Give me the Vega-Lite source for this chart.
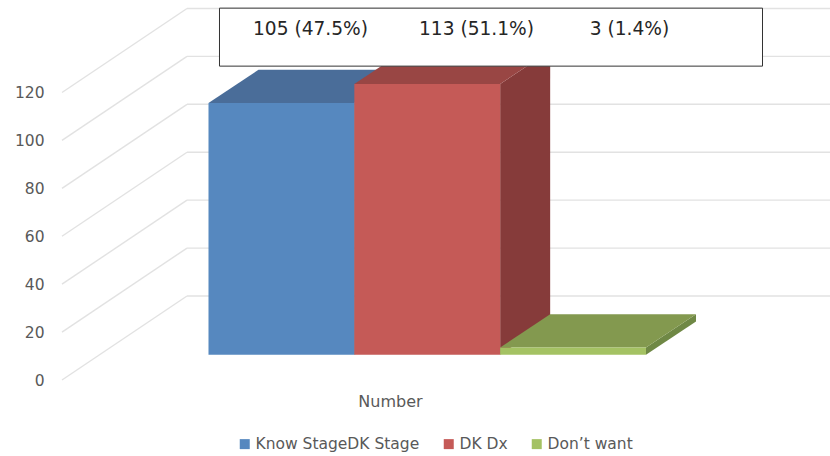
{
  "$schema": "https://vega.github.io/schema/vega-lite/v6.json",
  "width": 830,
  "height": 456,
  "padding": 0,
  "autosize": {"type": "none"},
  "background": "white",
  "config": {
    "view": {"stroke": null},
    "font": "DejaVu Sans"
  },
  "datasets": {
    "bars": [
      {"series": "Know StageDK Stage", "value": 105, "left": 0, "right": 1, "label": "105 (47.5%)", "depth": [0, 1]},
      {"series": "DK Dx", "value": 113, "left": 1, "right": 2, "label": "113 (51.1%)", "depth": [0, 1]},
      {"series": "Don’t want", "value": 3, "left": 2, "right": 3, "label": "3 (1.4%)", "depth": [0, 1]}
    ],
    "ticks": [
      {"tick": 0}, {"tick": 20}, {"tick": 40}, {"tick": 60}, {"tick": 80}, {"tick": 100}, {"tick": 120}
    ]
  },
  "resolve": {"scale": {"color": "independent"}},
  "layer": [
    {
      "description": "Sloped part of the wall gridlines, also carries the value axis",
      "data": {"name": "ticks"},
      "mark": {"type": "rule", "color": "#e2e2e2", "strokeWidth": 1.4, "y2Offset": -84},
      "encoding": {
        "x": {
          "datum": -1.0046,
          "type": "quantitative",
          "scale": {"domain": [-1.4297, 4.2618], "nice": false, "zero": false},
          "axis": {
            "orient": "bottom", "title": "Number", "labels": false, "ticks": false, "domain": false, "grid": false,
            "titleX": 390, "titleY": -55, "titleFontSize": 16, "titleFontWeight": "normal", "titleColor": "#595959", "titleFont": "DejaVu Sans", "titleBaseline": "middle"
          }
        },
        "x2": {"datum": -0.1474},
        "y": {
          "field": "tick",
          "type": "quantitative",
          "scale": {"domain": [-31.72, 158.6], "nice": false, "zero": false},
          "axis": {
            "orient": "left", "title": null, "values": [0, 20, 40, 60, 80, 100, 120], "domain": false, "ticks": false, "grid": false,
            "offset": -44, "labelPadding": 0, "labelFontSize": 15.5, "labelColor": "#595959", "labelFont": "DejaVu Sans"
          }
        },
        "y2": {"field": "tick"}
      }
    },
    {
      "description": "Horizontal part of the gridlines along the back wall",
      "data": {"name": "ticks"},
      "mark": {"type": "rule", "color": "#e2e2e2", "strokeWidth": 1.4, "yOffset": -84},
      "encoding": {
        "x": {"datum": -0.1474, "type": "quantitative"},
        "x2": {"datum": 4.2618},
        "y": {"field": "tick", "type": "quantitative"}
      }
    },
    {
      "description": "Side faces: the bar's right edge projected back by its depth",
      "data": {"name": "bars"},
      "transform": [
        {"flatten": ["depth"]},
        {"calculate": "datum.right + datum.depth * 0.3429", "as": "px"},
        {"calculate": "datum.value + 10.56 + datum.depth * 13.9", "as": "top"},
        {"calculate": "10.56 + datum.depth * 13.9", "as": "floor"}
      ],
      "mark": {"type": "area"},
      "encoding": {
        "x": {"field": "px", "type": "quantitative"},
        "y": {"field": "top", "type": "quantitative"},
        "y2": {"field": "floor"},
        "color": {"field": "series", "type": "nominal", "sort": null, "legend": null, "scale": {"domain": ["Know StageDK Stage", "DK Dx", "Don’t want"], "range": ["#3b5d82", "#863b3a", "#6f8845"]}}
      }
    },
    {
      "description": "Top faces: the bar's top edge projected back by its depth",
      "data": {"name": "bars"},
      "transform": [
        {"flatten": ["depth"]},
        {"calculate": "datum.left + datum.depth * 0.3429", "as": "px"},
        {"calculate": "datum.right + datum.depth * 0.3429", "as": "px2"},
        {"calculate": "datum.value + 10.56 + datum.depth * 13.9", "as": "top"}
      ],
      "mark": {"type": "area", "orient": "horizontal"},
      "encoding": {
        "x": {"field": "px", "type": "quantitative"},
        "x2": {"field": "px2"},
        "y": {"field": "top", "type": "quantitative"},
        "color": {"field": "series", "type": "nominal", "sort": null, "legend": null, "scale": {"domain": ["Know StageDK Stage", "DK Dx", "Don’t want"], "range": ["#4a6d99", "#994644", "#83994f"]}}
      }
    },
    {
      "description": "Front faces of the bars, with the legend",
      "data": {"name": "bars"},
      "mark": {"type": "rect", "yOffset": -25.3, "y2Offset": -25.3},
      "encoding": {
        "x": {"field": "left", "type": "quantitative"},
        "x2": {"field": "right"},
        "y": {"field": "value", "type": "quantitative"},
        "y2": {"datum": 0},
        "color": {
          "field": "series",
          "type": "nominal",
          "sort": null,
          "scale": {"domain": ["Know StageDK Stage", "DK Dx", "Don’t want"], "range": ["#5688bf", "#c55a57", "#a4c263"]},
          "legend": {
            "orient": "none", "legendX": 237, "legendY": 436, "direction": "horizontal", "title": null,
            "symbolType": "square", "symbolSize": 100, "symbolStrokeWidth": 0, "labelFontSize": 15.5, "labelLimit": 400, "labelColor": "#595959", "labelFont": "DejaVu Sans", "columnPadding": 21, "labelOffset": 3
          }
        }
      }
    },
    {
      "description": "Annotation box over the top of the chart",
      "data": {"values": [{}]},
      "mark": {"type": "rect", "fill": "white", "stroke": "#333333", "strokeWidth": 1},
      "encoding": {
        "x": {"datum": 0.0754, "type": "quantitative"},
        "x2": {"datum": 3.799},
        "y": {"datum": 155.2, "type": "quantitative"},
        "y2": {"datum": 131}
      }
    },
    {
      "data": {"name": "bars"},
      "transform": [{"filter": "datum.left === 0"}],
      "mark": {"type": "text", "font": "DejaVu Sans", "fontSize": 18.6, "color": "#262626"},
      "encoding": {
        "x": {"datum": 0.6995, "type": "quantitative"},
        "y": {"datum": 146.4, "type": "quantitative"},
        "text": {"field": "label"}
      }
    },
    {
      "data": {"name": "bars"},
      "transform": [{"filter": "datum.left === 1"}],
      "mark": {"type": "text", "font": "DejaVu Sans", "fontSize": 18.6, "color": "#262626"},
      "encoding": {
        "x": {"datum": 1.8377, "type": "quantitative"},
        "y": {"datum": 146.4, "type": "quantitative"},
        "text": {"field": "label"}
      }
    },
    {
      "data": {"name": "bars"},
      "transform": [{"filter": "datum.left === 2"}],
      "mark": {"type": "text", "font": "DejaVu Sans", "fontSize": 18.6, "color": "#262626"},
      "encoding": {
        "x": {"datum": 2.887, "type": "quantitative"},
        "y": {"datum": 146.4, "type": "quantitative"},
        "text": {"field": "label"}
      }
    }
  ]
}
